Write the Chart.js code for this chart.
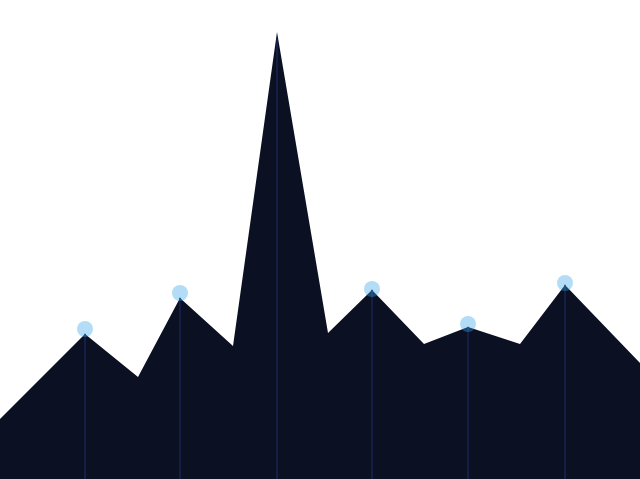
<!DOCTYPE html>
<html>
<head>
<meta charset="utf-8">
<script src="https://cdn.jsdelivr.net/npm/chart.js@4"></script>
<style>
    html, body { margin: 0; padding: 0; background: #ffffff; }
    #wrap { width: 640px; height: 479px; position: relative; }
</style>
</head>
<body>
<div id="wrap"><canvas id="areaChart"></canvas></div>
<script>
// Area outline: x positions and heights
const areaX = [0, 85, 138, 180, 233, 277, 328, 372, 424, 468, 520, 565, 640];
const areaY = [60, 145, 102, 181, 133, 447, 146, 189, 135, 152, 135, 194, 116];

// Drop lines under the main points
const dropX = [85, 180, 277, 372, 468, 565];
const dropY = [145, 181, 440, 189, 152, 194];

// Highlight markers
const markX = [85, 180, 372, 468, 565];
const markY = [150, 186, 190, 155, 196];

function toPoints(xs, ys) {
    return xs.map((x, i) => ({ x: x, y: ys[i] }));
}

document.addEventListener("DOMContentLoaded", function () {
    const ctx = document.getElementById("areaChart").getContext("2d");
    new Chart(ctx, {
        type: "line",
        data: {
            datasets: [
                {
                    type: "line",
                    data: toPoints(areaX, areaY),
                    backgroundColor: "#0b1022",
                    borderColor: "#0b1022",
                    borderWidth: 0,
                    fill: "origin",
                    tension: 0,
                    pointRadius: 0,
                    order: 3,
                },
                {
                    type: "bar",
                    data: toPoints(dropX, dropY),
                    backgroundColor: "#182250",
                    barThickness: 1,
                    order: 2,
                },
                {
                    type: "line",
                    data: toPoints(markX, markY),
                    showLine: false,
                    pointRadius: 8,
                    pointBorderWidth: 0,
                    pointBackgroundColor: "rgba(54, 162, 235, 0.38)",
                    order: 1,
                },
            ],
        },
        options: {
            responsive: true,
            maintainAspectRatio: false,
            animation: false,
            layout: { padding: 0, autoPadding: false },
            plugins: {
                legend: { display: false },
                tooltip: { enabled: false },
            },
            scales: {
                x: { type: "linear", display: false, min: 0, max: 640, offset: false },
                y: { type: "linear", display: false, min: 0, max: 479 },
            },
        },
    });
});
</script>
</body>
</html>
